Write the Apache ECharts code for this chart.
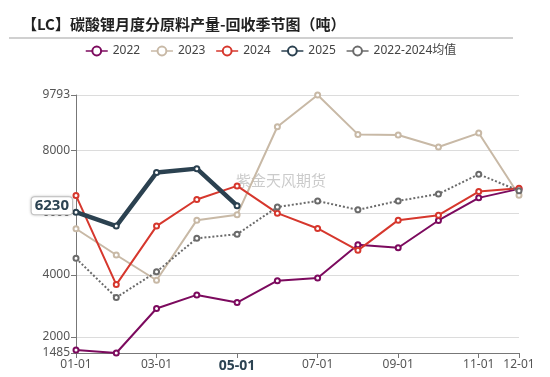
<!DOCTYPE html>
<html>
<head>
<meta charset="utf-8">
<script src="https://cdn.jsdelivr.net/npm/echarts@6/dist/echarts.min.js"></script>
<style>
  html, body { margin: 0; padding: 0; background: #fff; }
  #chart { width: 550px; height: 377px; }
</style>
</head>
<body>
<div id="chart"></div>
<script>
// months on the x axis
const months = ['01-01', '02-01', '03-01', '04-01', '05-01', '06-01',
                '07-01', '08-01', '09-01', '10-01', '11-01', '12-01'];

// monthly output (tonnes)
const y2022 = [1579, 1485, 2917, 3356, 3110, 3815, 3902, 4972, 4875, 5753, 6481, 6770];
const y2023 = [5485, 4640, 3827, 5763, 5935, 8770, 9793, 8524, 8503, 8119, 8567, 6566];
const y2024 = [6555, 3687, 5571, 6427, 6866, 5989, 5496, 4790, 5763, 5924, 6684, 6791];
const y2025 = [6021, 5571, 7294, 7422, 6230];
const avg2224 = [4533, 3271, 4100, 5178, 5310, 6185, 6380, 6095, 6383, 6605, 7242, 6708];

const legendNames = ['2022', '2023', '2024', '2025', '2022-2024均值'];

const yMin = 1485, yMax = 9793;
const lastValue = 6230;
const currentMonth = '05-01';

const fontFamily = '"Noto Sans", "Noto Sans CJK SC", sans-serif';

let chart = echarts.init(document.getElementById('chart'));

function lineSeries(name, data, color, extra) {
    return Object.assign({
        name: name,
        type: 'line',
        data: data,
        symbol: 'emptyCircle',
        symbolSize: 5,
        color: color,
        lineStyle: { width: 2, color: color },
        itemStyle: { color: color, borderWidth: 1.2 }
    }, extra || {});
}

let option = {
    animation: false,
    textStyle: { fontFamily: fontFamily },
    graphic: [
        {
            type: 'text', left: 22, top: 17,
            style: {
                text: '【LC】碳酸锂月度分原料产量-回收季节图（吨）',
                font: 'bold 15px "Noto Sans CJK SC", sans-serif',
                fill: '#222'
            }
        },
        {
            type: 'line',
            shape: { x1: 9, y1: 38, x2: 513, y2: 38 },
            style: { stroke: '#d0d0d0', lineWidth: 2 }
        },
        {
            type: 'text', left: 236, top: 173, z: 0,
            style: {
                text: '紫金天风期货',
                font: '15px "Noto Sans CJK SC", sans-serif',
                fill: 'rgba(160,160,160,0.55)'
            }
        }
    ],
    legend: {
        top: 40,
        left: 80,
        itemWidth: 22,
        itemHeight: 11,
        itemGap: 10,
        textStyle: { fontSize: 12, color: '#444' },
        lineStyle: { width: 1.5, type: 'solid' },
        data: legendNames
    },
    grid: { left: 76, right: 31, top: 95, bottom: 24 },
    xAxis: {
        type: 'category',
        data: months,
        boundaryGap: false,
        axisLine: { lineStyle: { color: '#777' } },
        axisTick: {
            alignWithLabel: true,
            interval: function (i) { return i % 2 === 0 || i === months.length - 1; }
        },
        axisLabel: {
            color: '#555',
            fontSize: 12,
            margin: 6,
            interval: function (i) { return i % 2 === 0 || i === months.length - 1; },
            formatter: function (v) {
                return v === currentMonth ? '{cur|' + v + '}' : v;
            },
            rich: {
                cur: { fontSize: 14, fontWeight: 'bold', color: '#2c4352' }
            }
        }
    },
    yAxis: {
        type: 'value',
        min: yMin,
        max: yMax,
        splitNumber: 4,
        axisLine: { show: true, lineStyle: { color: '#777' } },
        axisTick: { show: true, lineStyle: { color: '#777' } },
        axisLabel: {
            color: '#555', fontSize: 12, margin: 6,
            showMinLabel: true, showMaxLabel: true,
            formatter: function (v) { return String(Math.round(v)); }
        },
        splitLine: { lineStyle: { color: '#dcdcdc' } },
        axisPointer: {
            show: true,
            status: 'show',
            value: lastValue,
            triggerTooltip: false,
            lineStyle: { opacity: 0 },
            label: {
                show: true,
                formatter: function (p) { return String(Math.round(p.value)); },
                color: '#2c4352',
                fontSize: 15,
                fontWeight: 'bold',
                backgroundColor: '#fff',
                borderColor: '#ccc',
                borderWidth: 1,
                padding: [1, 3],
                margin: 4,
                shadowBlur: 3,
                shadowColor: 'rgba(0,0,0,0.2)'
            }
        }
    },
    series: [
        lineSeries('2022', y2022, '#7c0a5e'),
        lineSeries('2023', y2023, '#c8b9a6'),
        lineSeries('2024', y2024, '#d6372d'),
        lineSeries('2022-2024均值', avg2224, '#6b6b6b', {
            lineStyle: { width: 2, type: 'dotted', color: '#6b6b6b' }
        }),
        lineSeries('2025', y2025, '#2b4150', {
            z: 5,
            lineStyle: { width: 4.5, color: '#2b4150' }
        })
    ]
};

chart.setOption(option);
</script>
</body>
</html>
